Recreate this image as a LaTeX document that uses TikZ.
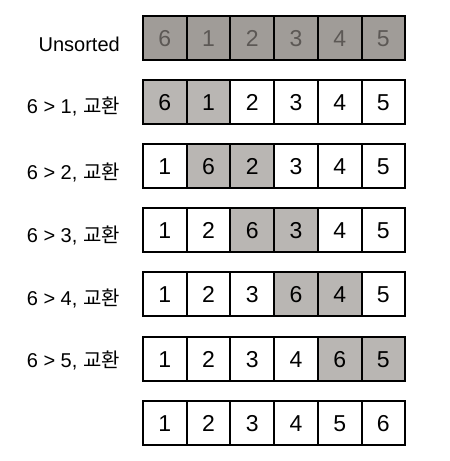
\documentclass[tikz,border=0pt]{standalone}
\usepackage{fontspec}
\setmainfont{Liberation Sans}
\newfontfamily\krfont{Noto Sans CJK KR}
\usetikzlibrary{positioning}

\definecolor{unsortgray}{HTML}{A09C98}
\definecolor{unsorttext}{HTML}{5C5855}
\definecolor{swapgray}{HTML}{B9B6B3}

\begin{document}
\begin{tikzpicture}[x=1pt, y=-1pt,
    cell/.style={rectangle, draw, line width=2pt, outer sep=0pt, inner sep=0pt,
        minimum width=43.7pt, minimum height=44.5pt, font=\fontsize{23}{23}\selectfont},
    rawcell/.style={fill=unsortgray, text=unsorttext},
    swapcell/.style={fill=swapgray},
    keepcell/.style={fill=white},
    rowlabel/.style={inner sep=0pt, font=\fontsize{20}{20}\selectfont}]
            \useasboundingbox (0,0) rectangle (450,461);

            \newcommand{\cellrow}[3]{
                \foreach \d/\s [count=\i] in {#3}
                    \node[cell, \s] (#1-\i) at ({143+43.7*(\i-0.5)}, #2+22.2) {\d};
            }

            \cellrow{unsorted}{16}{6/rawcell, 1/rawcell, 2/rawcell, 3/rawcell, 4/rawcell, 5/rawcell};
            \cellrow{pass1}{80}{6/swapcell, 1/swapcell, 2/keepcell, 3/keepcell, 4/keepcell, 5/keepcell};
            \cellrow{pass2}{144}{1/keepcell, 6/swapcell, 2/swapcell, 3/keepcell, 4/keepcell, 5/keepcell};
            \cellrow{pass3}{208}{1/keepcell, 2/keepcell, 6/swapcell, 3/swapcell, 4/keepcell, 5/keepcell};
            \cellrow{pass4}{272}{1/keepcell, 2/keepcell, 3/keepcell, 6/swapcell, 4/swapcell, 5/keepcell};
            \cellrow{pass5}{337}{1/keepcell, 2/keepcell, 3/keepcell, 4/keepcell, 6/swapcell, 5/swapcell};
            \cellrow{sorted}{401}{1/keepcell, 2/keepcell, 3/keepcell, 4/keepcell, 5/keepcell, 6/keepcell};

            \node[rowlabel, left=23pt of unsorted-1, yshift=-6pt] (unsorted-label) {Unsorted};
            \node[rowlabel, left=23pt of pass1-1, yshift=-4pt] (pass1-label) {6 > 1, {\krfont 교환}};
            \node[rowlabel, left=23pt of pass2-1, yshift=-6pt] (pass2-label) {6 > 2, {\krfont 교환}};
            \node[rowlabel, left=23pt of pass3-1, yshift=-5pt] (pass3-label) {6 > 3, {\krfont 교환}};
            \node[rowlabel, left=23pt of pass4-1, yshift=-4pt] (pass4-label) {6 > 4, {\krfont 교환}};
            \node[rowlabel, left=23pt of pass5-1, yshift=-1pt] (pass5-label) {6 > 5, {\krfont 교환}};
        \end{tikzpicture}
\end{document}
